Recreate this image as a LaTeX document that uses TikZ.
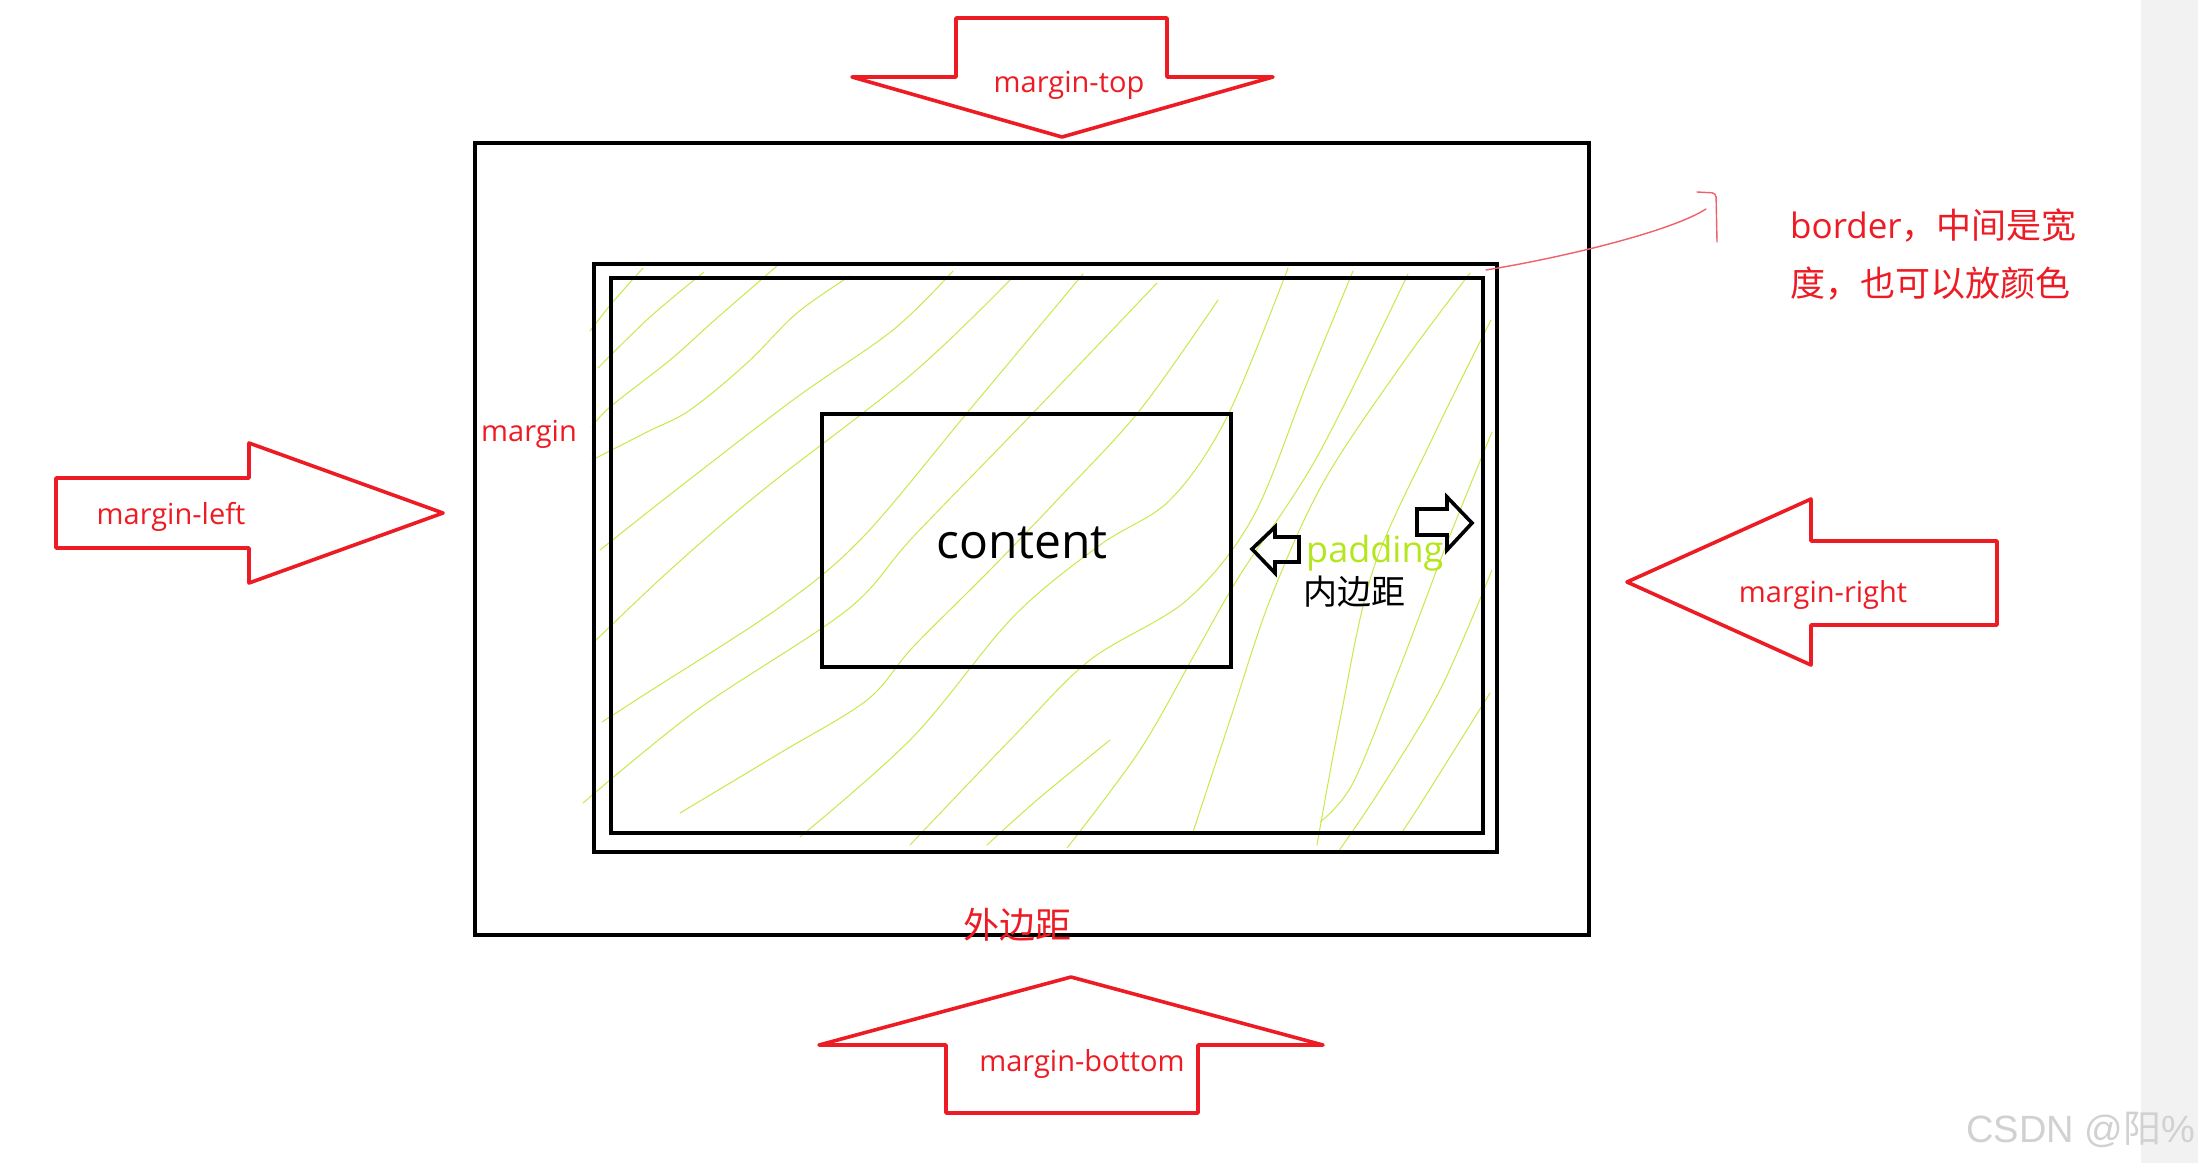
\documentclass[tikz,border=0pt]{standalone}
\usepackage{fontspec}
\setmainfont{Open Sans}
\newfontfamily\cjk{Noto Sans CJK SC}
\newfontfamily\wmfont{Liberation Sans}
\definecolor{pred}{HTML}{ED1C24}
\definecolor{plime}{HTML}{B5E61D}
\definecolor{annred}{HTML}{F0606A}
\begin{document}
\begin{tikzpicture}[x=1pt,y=-1pt,
  redarrow/.style={draw=pred, line width=3.6pt, line join=round},
  padarrow/.style={draw=black, line width=3.6pt, line join=miter},
  box/.style={draw=black, line width=3.6pt, inner sep=0pt, outer sep=0pt},
  hatch/.style={draw=plime!80!white, line width=1.0pt, line cap=round, line join=round},
  lbl/.style={text=pred, font=\fontsize{29}{34}\selectfont, inner sep=0pt},
  annot/.style={draw=annred, line width=1.4pt, line cap=round},
]
\useasboundingbox (0,0) rectangle (2198,1163);
\fill[white] (0,0) rectangle (2198,1163);
\fill[black!5] (2141,0) rectangle (2198,1163);

% hatching (padding area)
\begin{scope}[hatch]
\draw plot[smooth, tension=0.55] coordinates {(643,268) (612,303) (590,331)};
\draw plot[smooth, tension=0.55] coordinates {(704,272) (650,317) (598,368)};
\draw plot[smooth, tension=0.55] coordinates {(777,266) (717,318) (670,360) (610,407) (592,427)};
\draw plot[smooth, tension=0.55] coordinates {(850,276) (797,313) (747,363) (690,410) (647,432) (592,460)};
\draw plot[smooth, tension=0.55] coordinates {(953,271) (893,330) (793,400) (667,497) (600,550)};
\draw plot[smooth, tension=0.55] coordinates {(1013,277) (913,373) (763,490) (670,570) (593,643)};
\draw plot[smooth, tension=0.55] coordinates {(1083,274) (967,413) (863,537) (780,607) (647,693) (602,722)};
\draw plot[smooth, tension=0.55] coordinates {(1157,283) (1033,413) (913,537) (847,610) (697,710) (583,803)};
\draw plot[smooth, tension=0.55] coordinates {(1218,300) (1140,410) (1060,497) (990,570) (913,647) (867,700) (780,753) (680,813)};
\draw plot[smooth, tension=0.55] coordinates {(1288,268) (1227,417) (1170,500) (1100,545) (1013,617) (913,737) (800,837)};
\draw plot[smooth, tension=0.55] coordinates {(1353,271) (1307,383) (1253,517) (1187,600) (1090,660) (1013,737) (910,845)};
\draw plot[smooth, tension=0.55] coordinates {(1408,274) (1317,457) (1240,575) (1197,650) (1140,750) (1067,848)};
\draw plot[smooth, tension=0.55] coordinates {(1110,740) (1037,800) (987,845)};
\draw plot[smooth, tension=0.55] coordinates {(1470,273) (1400,367) (1323,483) (1270,600) (1230,720) (1193,832)};
\draw plot[smooth, tension=0.55] coordinates {(1491,320) (1433,437) (1373,570) (1340,720) (1317,845)};
\draw plot[smooth, tension=0.55] coordinates {(1492,432) (1447,543) (1400,667) (1353,783) (1320,822)};
\draw plot[smooth, tension=0.55] coordinates {(1492,570) (1440,690) (1380,790) (1338,852)};
\draw plot[smooth, tension=0.55] coordinates {(1490,693) (1423,800) (1400,835)};
\end{scope}

% boxes
\node[box, minimum width=1114pt, minimum height=792pt] (marginbox) at (1032,539) {};
\node[box, minimum width=903pt, minimum height=588pt] (borderout) at (1045.5,558) {};
\node[box, minimum width=872pt, minimum height=555pt] (borderin) at (1047,555.5) {};
\node[box, minimum width=409pt, minimum height=253pt] (contentbox) at (1026.5,540.5) {};
\node[anchor=base, inner sep=0pt, font=\fontsize{48}{56}\selectfont] (contenttxt) at (1022,558) {content};

% padding arrows and labels
\draw[padarrow] (1252,549) -- (1275,527) -- (1275,537) -- (1299,537) -- (1299,562) -- (1275,562) -- (1275,573) -- cycle;
\draw[padarrow] (1417,509) -- (1447,509) -- (1447,497) -- (1472,523) -- (1447,550) -- (1447,535) -- (1417,535) -- cycle;
\node[anchor=base west, inner sep=0pt, text=plime, font=\fontsize{36}{42}\selectfont] (padtxt) at (1306,562) {padding};
\node[anchor=base west, inner sep=0pt, font=\cjk\fontsize{34}{40}\selectfont] (padcn) at (1303,604) {内边距};

% red arrows
\draw[redarrow] (956,18) -- (1167,18) -- (1167,77) -- (1273,77) -- (1062,137) -- (852,77) -- (956,77) -- cycle;
\draw[redarrow] (56,478) -- (249,478) -- (249,443) -- (443,513) -- (249,583) -- (249,548) -- (56,548) -- cycle;
\draw[redarrow] (1627,582) -- (1811,499) -- (1811,541) -- (1997,541) -- (1997,625) -- (1811,625) -- (1811,665) -- cycle;
\draw[redarrow] (1071,977) -- (1323,1045) -- (1198,1045) -- (1198,1113) -- (946,1113) -- (946,1045) -- (819,1045) -- cycle;

\node[lbl, anchor=base] (mtop) at (1069,92) {margin-top};
\node[lbl, anchor=base] (mleft) at (171,524) {margin-left};
\node[lbl, anchor=base] (mright) at (1823,602) {margin-right};
\node[lbl, anchor=base] (mbottom) at (1082,1071) {margin-bottom};
\node[lbl, anchor=base] (mlabel) at (529,441) {margin};
\node[text=pred, inner sep=0pt, anchor=base, font=\cjk\fontsize{36}{42}\selectfont] (waibianju) at (1017,938) {外边距};

% border annotation
\node[text=pred, inner sep=0pt, anchor=base west, font=\fontsize{35}{42}\selectfont] (bline1) at (1790,238) {border{\cjk ，中间是宽}};
\node[text=pred, inner sep=0pt, anchor=base west, font=\cjk\fontsize{35}{42}\selectfont] (bline2) at (1790,296) {度，也可以放颜色};
\coordinate (annstart) at (1486,270);
\coordinate (annend) at (1706,209);
\draw[annot] (annstart) .. controls (1560,258) and (1670,232) .. (annend);
\draw[annot, rounded corners=4pt] (1697,192) -- (1716,193) -- (1717,242);

% watermark
\node[anchor=base west, inner sep=0pt, text=black!18, font=\wmfont\fontsize{38}{44}\selectfont] (wm) at (1966,1142) {CSDN @{\cjk 阳}\%};
\end{tikzpicture}
\end{document}
